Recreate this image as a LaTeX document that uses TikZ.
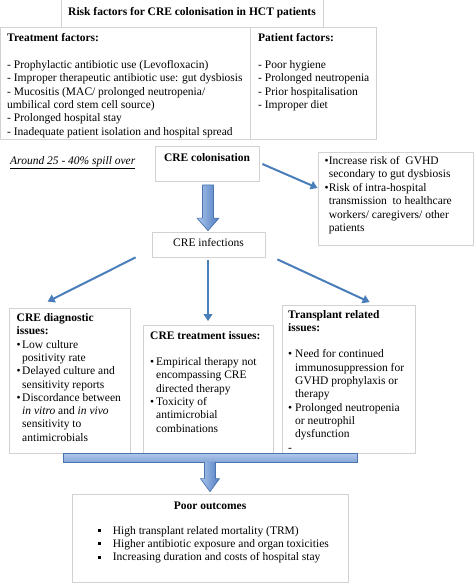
\documentclass[tikz,border=0pt]{standalone}
\usepackage{fontspec}
\setmainfont{Liberation Serif}
\usetikzlibrary{arrows.meta,calc,fit}
\definecolor{boxline}{HTML}{D2D2D2}
\definecolor{arrowblue}{HTML}{4A7EBB}
\definecolor{fatlight}{HTML}{ABC5EC}
\definecolor{fatdark}{HTML}{4F7DC0}
\definecolor{fatedge}{HTML}{4A74AE}
\definecolor{barlight}{HTML}{B1C9EE}
\definecolor{bardark}{HTML}{86A6D6}
\newcommand\fs{\fontsize{11.5}{13.3}\selectfont}
\newcommand\bul{\textbullet}
\newcommand\sqbul{\raisebox{2pt}{\rule{3.2pt}{3.2pt}}}
\newcommand\fatpath[5]{let \p1=(#1), \p2=(#2) in (\x1-#3,\y1) -- (\x1-#3,\y2+#5) -- (\x1-#4,\y2+#5) -- (\x1,\y2) -- (\x1+#4,\y2+#5) -- (\x1+#3,\y2+#5) -- (\x1+#3,\y1)}
\begin{document}
\begin{tikzpicture}[x=1pt,y=-1pt,
 box/.style={draw=boxline,line width=0.8pt,inner sep=0pt},
 txt/.style={inner sep=0pt,anchor=base west,font=\fs},
 ctxt/.style={inner sep=0pt,anchor=base,font=\fs},
 thinarrow/.style={draw=arrowblue,line width=2pt,-{Triangle[length=7pt,width=8.5pt]}},
 fatshade/.style={left color=fatlight,right color=fatdark},
 fatline/.style={draw=fatedge,line width=0.7pt,line join=round},
]
\useasboundingbox (0,0) rectangle (474,583);
\fill[white] (0,0) rectangle (474,583);

% boxes
\node[box,fit={(61,-1) (323,27)}] (title) {};
\node[box,fit={(0.5,27) (250,139)}] (treat) {};
\node[box,fit={(250,27) (376,139)}] (patient) {};
\node[box,fit={(155,146) (259,181)}] (col) {};
\node[box,fit={(318,152) (473,245)}] (rbox) {};
\node[box,fit={(152,232) (265,257)}] (inf) {};
\node[box,fit={(9,308) (130,453)}] (diag) {};
\node[box,fit={(143,325) (273,453)}] (treatiss) {};
\node[box,fit={(282,305) (415,453)}] (trans) {};
\node[box,fit={(72,494) (348,582)}] (poor) {};

% texts
\node[ctxt,font=\fs\bfseries] (titletxt) at (192,15.5) {Risk factors for CRE colonisation in HCT patients};

\node[txt] (tftxt) at (7,42) {\begin{tabular}[t]{@{}l@{}}\textbf{Treatment factors:}\\ \\
- Prophylactic antibiotic use (Levofloxacin)\\
- Improper therapeutic antibiotic use: gut dysbiosis\\
- Mucositis (MAC/ prolonged neutropenia/\\
umbilical cord stem cell source)\\
- Prolonged hospital stay\\
- Inadequate patient isolation and hospital spread\end{tabular}};

\node[txt] (pftxt) at (258,42) {\begin{tabular}[t]{@{}l@{}}\textbf{Patient factors:}\\ \\
- Poor hygiene\\
- Prolonged neutropenia\\
- Prior hospitalisation\\
- Improper diet\end{tabular}};

\node[txt,font=\fs\itshape] (spill) at (10,164) {\underline{Around 25 - 40\% spill over}};

\node[ctxt,font=\fs\bfseries] (coltxt) at (207,161) {CRE colonisation};

\node[txt,font=\fontsize{11.5}{13.5}\selectfont] (rtxt) at (324.3,164.2) {\begin{tabular}[t]{@{}l@{\hspace{0.3pt}}l@{}}
\bul & Increase risk of \ GVHD\\
 & secondary to gut dysbiosis\\
\bul & Risk of intra-hospital\\
 & transmission \ to healthcare\\
 & workers/ caregivers/ other\\
 & patients\end{tabular}};

\node[ctxt] (inftxt) at (208.5,246) {CRE infections};

\node[txt] (dtxt) at (16.5,321.5) {\begin{tabular}[t]{@{}l@{\hspace{1.5pt}}l@{}}
\multicolumn{2}{@{}l@{}}{\textbf{CRE diagnostic}}\\
\multicolumn{2}{@{}l@{}}{\textbf{issues:}}\\
\bul & Low culture\\
 & positivity rate\\
\bul & Delayed culture and\\
 & sensitivity reports\\
\bul & Discordance between\\
 & \textit{in vitro} and \textit{in vivo}\\
 & sensitivity to\\
 & antimicrobials\end{tabular}};

\node[txt] (titxt) at (150,339) {\begin{tabular}[t]{@{}l@{\hspace{2pt}}l@{}}
\multicolumn{2}{@{}l@{}}{\textbf{CRE treatment issues:}}\\ \\
\bul & Empirical therapy not\\
 & encompassing CRE\\
 & directed therapy\\
\bul & Toxicity of\\
 & antimicrobial\\
 & combinations\end{tabular}};

\node[txt] (trtxt) at (288,318) {\begin{tabular}[t]{@{}l@{\hspace{3pt}}l@{}}
\multicolumn{2}{@{}l@{}}{\textbf{Transplant related}}\\
\multicolumn{2}{@{}l@{}}{\textbf{issues:}}\\ \\
\bul & Need for continued\\
 & immunosuppression for\\
 & GVHD prophylaxis or\\
 & therapy\\
\bul & Prolonged neutropenia\\
 & or neutrophil\\
 & dysfunction\\
- & \end{tabular}};

\node[ctxt,font=\fs\bfseries] (ptitle) at (210,509) {Poor outcomes};

\node[txt,font=\fontsize{11.5}{13.4}\selectfont] (ptxt) at (97.7,534) {\begin{tabular}[t]{@{}l@{\hspace{11.8pt}}l@{}}
\sqbul & High transplant related mortality (TRM)\\
\sqbul & Higher antibiotic exposure and organ toxicities\\
\sqbul & Increasing duration and costs of hospital stay\end{tabular}};

% thin arrows
\draw[thinarrow] ($(col.east)+(3,0.5)$) -- ($(rbox.west)+(0,-10.5)$);
\draw[thinarrow] ($(inf.south west)+(-16,0)$) -- ($(diag.north west)+(39,-6)$);
\draw[thinarrow] ($(inf.south)+(-0.5,3)$) -- ($(treatiss.north)+(0,-3.5)$);
\draw[thinarrow] ($(inf.south east)+(12,2)$) -- ($(trans.north west)+(88,-2.5)$);

% fat arrow colonisation -> infections
\coordinate (a1s) at ($(col.south)+(1,3.5)$);
\coordinate (a1e) at ($(inf.north)+(-0.5,-1)$);
\path[fatshade] \fatpath{a1s}{a1e}{5.5pt}{11pt}{12.5pt} -- cycle;
\draw[fatline] \fatpath{a1s}{a1e}{5.5pt}{11pt}{12.5pt} -- cycle;

% bar and fat arrow to poor outcomes
\node[fit={(63,453) (357,462)},inner sep=0pt,top color=barlight,bottom color=bardark,draw=fatedge,line width=0.7pt] (bar) {};
\coordinate (a2s) at ($(bar.south)+(0,-0.6)$);
\coordinate (a2e) at ($(poor.north)+(0,-2)$);
\path[fatshade] \fatpath{a2s}{a2e}{5.5pt}{9.5pt}{13pt} -- cycle;
\draw[fatline] \fatpath{a2s}{a2e}{5.5pt}{9.5pt}{13pt};
\end{tikzpicture}
\end{document}
